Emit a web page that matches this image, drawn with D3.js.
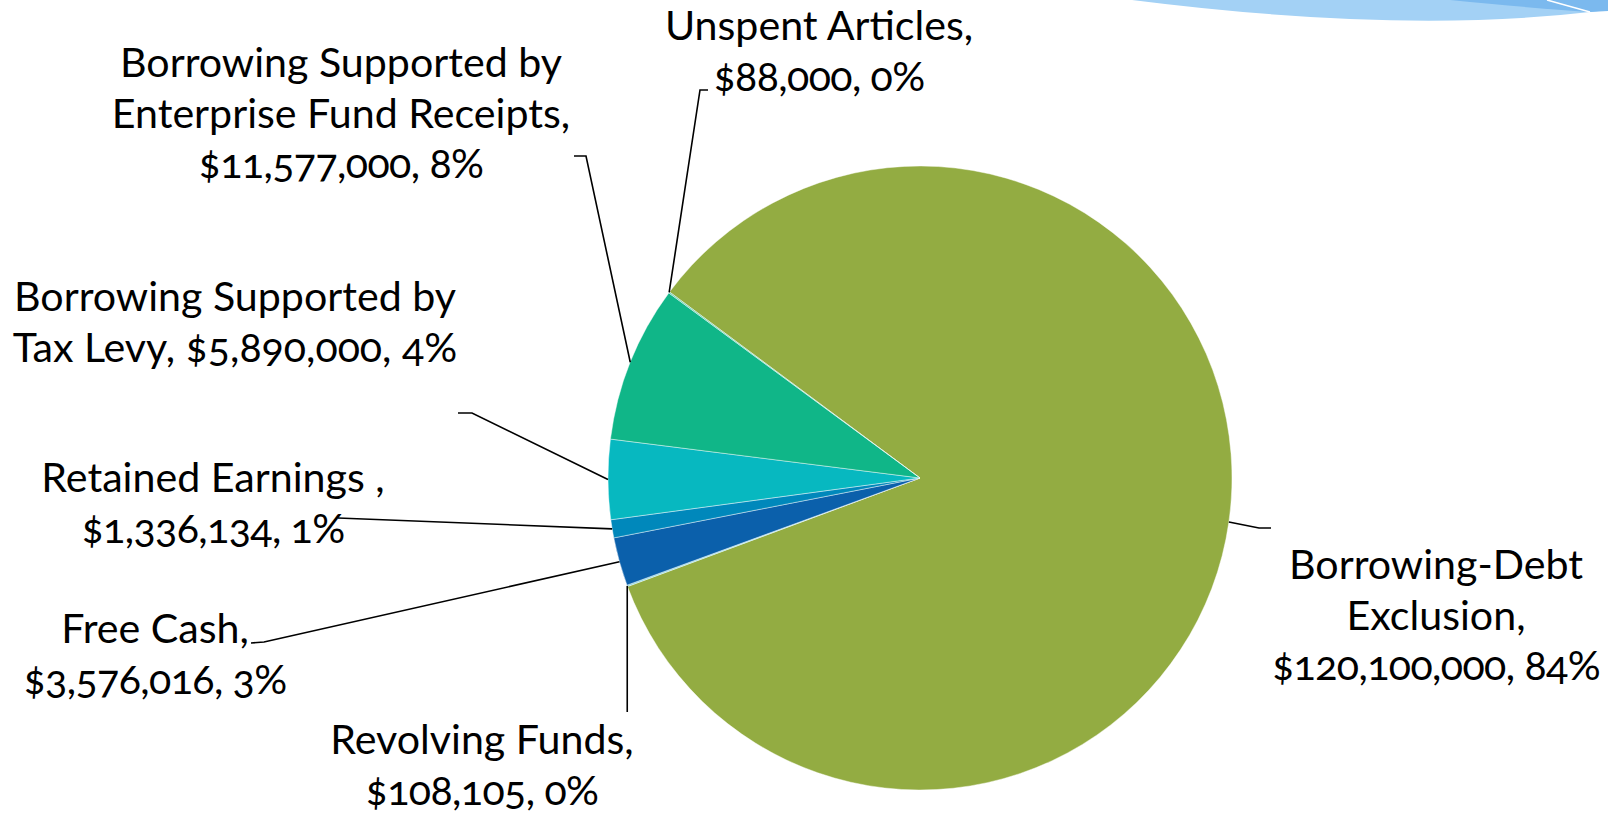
<!DOCTYPE html>
<html>
<head>
<meta charset="utf-8">
<script src="https://cdn.jsdelivr.net/npm/d3@7"></script>
<style>
    html, body { margin: 0; padding: 0; background: #fff; overflow: hidden; }
    .label { font-family: Lato, "Open Sans", sans-serif; font-variant-numeric: oldstyle-nums; fill: #000; }
</style>
</head>
<body>
<div id="chart"></div>
<script>
// Data
const categories = ['Borrowing-Debt\nExclusion', 'Revolving Funds', 'Free Cash', 'Retained Earnings ',
    'Borrowing Supported by\nTax Levy', 'Borrowing Supported by\nEnterprise Fund Receipts', 'Unspent Articles']
const values = [120100000, 108105, 3576016, 1336134, 5890000, 11577000, 88000]
const valueOnNewLine = [true, true, true, true, false, true, true]
const colors = ['#93ac42', '#7fd8e2', '#0b60ab', '#0088bb', '#07b8c0', '#10b688', '#5fcaa8']

function draw(){
    const dimension = { width: 1608, height: 815 }
    const cx = 920, cy = 478, radius = 312
    const startAngle = -53.4 * Math.PI / 180

    // where each label sits (first baseline) and its leader line bends
    const layout = [
        { x: 1436, y: 579, elbow: [1259, 528], end: [1271, 528] },
        { x: 482, y: 754, elbow: null, end: [null, 712] },
        { x: 155, y: 643, elbow: [264, 642], end: [251, 643] },
        { x: 213, y: 492, elbow: null, end: [338, 518] },
        { x: 235, y: 311, elbow: [472, 413], end: [458, 413] },
        { x: 341, y: 77, elbow: [586, 156], end: [574, 156] },
        { x: 819, y: 40, elbow: [700, 90], end: [708, 90] }
    ]
    const lineStep = 50.5

    const svg = d3.select('#chart')
        .append('svg')
        .attr('width', dimension.width)
        .attr('height', dimension.height)

    // top right slide decoration
    const deco = svg.append('g')
    deco.append('path')
        .attr('d', 'M1132,0 Q1400,34 1590,12 L1608,10 L1608,0 Z')
        .attr('fill', '#a3d1f5')
    deco.append('path')
        .attr('d', 'M1450,0 Q1530,8 1590,12 L1608,11 L1608,0 Z')
        .attr('fill', '#7bb9ee')
    deco.append('path')
        .attr('d', 'M1547,0 L1590,12')
        .attr('stroke', '#fff')
        .attr('stroke-width', 1.5)

    const total = d3.sum(values)
    const dataSet = categories.map((c, i) => ({ name: c, value: values[i], i: i }))

    const pie = d3.pie()
        .value(d => d.value)
        .sort(null)
        .startAngle(startAngle)
        .endAngle(startAngle + 2 * Math.PI)
    const slices = pie(dataSet)

    const arc = d3.arc().innerRadius(0).outerRadius(radius)

    const ctr = svg.append('g')
        .attr('transform', `translate(${cx}, ${cy})`)

    ctr.selectAll('path')
        .data(slices)
        .join('path')
        .attr('d', arc)
        .attr('fill', d => colors[d.data.i])
        .attr('stroke', '#ffffff')
        .attr('stroke-opacity', 0.55)
        .attr('stroke-width', 0.8)

    // leader lines
    const edgePoint = d => {
        const a = (d.startAngle + d.endAngle) / 2
        return [cx + radius * Math.sin(a), cy - radius * Math.cos(a)]
    }
    svg.append('g')
        .selectAll('path')
        .data(slices)
        .join('path')
        .attr('d', d => {
            const p = edgePoint(d)
            const l = layout[d.data.i]
            const pts = [p]
            if (l.elbow) pts.push(l.elbow)
            pts.push([l.end[0] === null ? p[0] : l.end[0], l.end[1]])
            return d3.line()(pts)
        })
        .attr('fill', 'none')
        .attr('stroke', '#000')
        .attr('stroke-width', 1.6)

    // labels
    const fmt = d3.format(',')
    const labelText = d => {
        const pct = Math.round(d.value / total * 100)
        return d.name + ',' + (valueOnNewLine[d.i] ? '\n' : ' ') + '$' + fmt(d.value) + ', ' + pct + '%'
    }

    // size text so it spans like the original
    const probe = svg.append('text').attr('class', 'label').style('font-size', '40px').text('Borrowing Supported by')
    const fontSize = 40 * 442 / probe.node().getComputedTextLength()
    probe.remove()

    svg.append('g')
        .selectAll('text')
        .data(dataSet)
        .join('text')
        .attr('class', 'label')
        .style('font-size', fontSize + 'px')
        .attr('text-anchor', 'middle')
        .each(function(d){
            const l = layout[d.i]
            d3.select(this).selectAll('tspan')
                .data(labelText(d).split('\n'))
                .join('tspan')
                .attr('x', l.x)
                .attr('y', (t, k) => l.y + k * lineStep)
                .style('letter-spacing', t => t.startsWith('$') ? '-0.6px' : null)
                .text(t => t)
        })
}

draw()
</script>
</body>
</html>
